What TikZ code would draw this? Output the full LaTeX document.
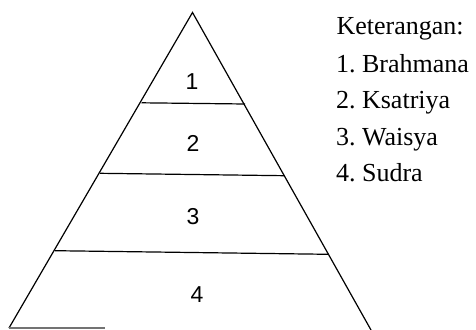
\documentclass[tikz,border=0pt]{standalone}
\usepackage{fontspec}
\setmainfont{Liberation Serif}
\newfontfamily\numfont{Liberation Sans}
\frenchspacing
\begin{document}
\begin{tikzpicture}[x=1pt,y=-1pt,line width=1.2pt,
  num/.style={font=\numfont\fontsize{23}{23}\selectfont,inner sep=0pt},
  leg/.style={font=\fontsize{26}{26}\selectfont,anchor=base west,inner sep=0pt}]
\useasboundingbox (0,0) rectangle (476,329);
% pyramid outline
\coordinate (apex) at (192.5,12.5);
\coordinate (bl) at (9,328);
\coordinate (br) at (371,330);
\draw[line join=miter] (bl) -- (apex) -- (br);
% base (partly visible)
\coordinate (b1) at (9,328);
\coordinate (b2) at (105,328);
\draw[black!55] (b1) -- (b2);
% layer lines
\coordinate (l1a) at (141.5,102.8);
\coordinate (l1b) at (245,104);
\coordinate (l2a) at (100,173.3);
\coordinate (l2b) at (284.5,175.7);
\coordinate (l3a) at (55,250.7);
\coordinate (l3b) at (328.5,254.3);
\draw (l1a) -- (l1b);
\draw (l2a) -- (l2b);
\draw (l3a) -- (l3b);
% layer numbers
\node[num] (n1) at (192,82) {1};
\node[num] (n2) at (193,143) {2};
\node[num] (n3) at (193,217) {3};
\node[num] (n4) at (197,295) {4};
% legend
\node[leg] (k) at (336,35) {Keterangan:};
\node[leg] (t1) at (335.5,72) {1. Brahmana};
\node[leg] (t2) at (335.5,108.5) {2. Ksatriya};
\node[leg] (t3) at (335.5,145) {3. Waisya};
\node[leg] (t4) at (335.5,181) {4. Sudra};
\end{tikzpicture}
\end{document}
